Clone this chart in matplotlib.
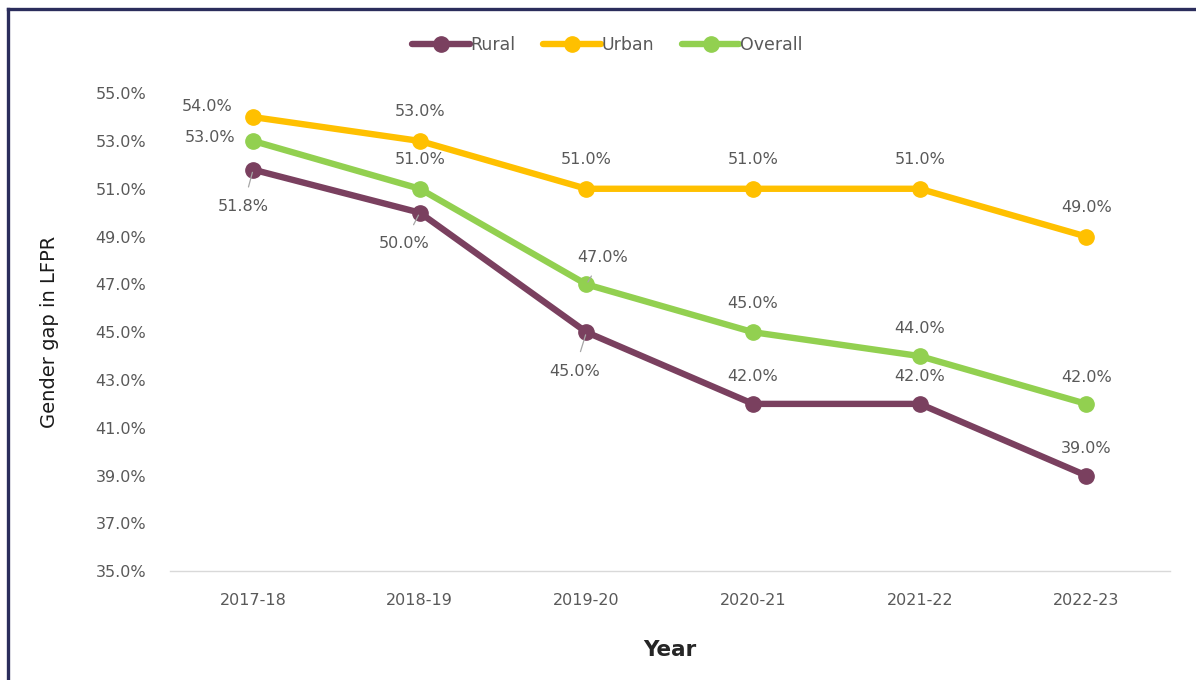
import matplotlib
matplotlib.use("Agg")
import matplotlib.pyplot as plt
from matplotlib.lines import Line2D
from matplotlib.ticker import FuncFormatter

plt.rcParams['font.family'] = ['DejaVu Sans']

years = ["2017-18", "2018-19", "2019-20", "2020-21", "2021-22", "2022-23"]
rural = [51.8, 50.0, 45.0, 42.0, 42.0, 39.0]
urban = [54.0, 53.0, 51.0, 51.0, 51.0, 49.0]
overall = [53.0, 51.0, 47.0, 45.0, 44.0, 42.0]

C_RURAL = "#7A405F"
C_URBAN = "#FFC000"
C_OVERALL = "#92D050"
TXT = "#595959"

# label offsets in pixels (dx, dy) and whether a leader line is drawn
rural_off = [(-10, -37, True), (-16, -31, True), (-12, -39, True), (0, 27, False), (0, 27, False), (0, 27, False)]
urban_off = [(-46, 11, False), (0, 29, False), (0, 29, False), (0, 29, False), (0, 29, False), (0, 29, False)]
overall_off = [(-43, 3, False), (0, 29, False), (16, 27, True), (0, 29, False), (0, 28, False), (0, 26, False)]

fig = plt.figure(figsize=(11.96, 6.8), dpi=100)
ax = fig.add_axes([0.142, 0.160, 0.836, 0.703])

x = list(range(len(years)))
series = [("Rural", rural, C_RURAL, rural_off),
          ("Urban", urban, C_URBAN, urban_off),
          ("Overall", overall, C_OVERALL, overall_off)]

for name, vals, col, offs in series:
    ax.plot(x, vals, color=col, lw=4.6, marker="o", ms=11, label=name,
            solid_capstyle="round", zorder=3)
    for xi, v, (dx, dy, lead) in zip(x, vals, offs):
        kw = {}
        if lead:
            kw["arrowprops"] = dict(arrowstyle="-", color="#A6A6A6", lw=0.9,
                                    shrinkA=7, shrinkB=2)
        ax.annotate(f"{v:.1f}%", (xi, v), xytext=(dx, dy),
                    textcoords="offset pixels", ha="center", va="center",
                    fontsize=11.5, color=TXT, zorder=4, **kw)

ax.set_xlim(-0.5, len(years) - 0.5)
ax.set_ylim(35, 55)
ax.set_yticks([35 + 2 * i for i in range(11)])
ax.yaxis.set_major_formatter(FuncFormatter(lambda v, p: f"{v:.1f}%"))
ax.set_xticks(x)
ax.set_xticklabels(years)
ax.tick_params(axis="both", length=0, labelsize=11.5, labelcolor=TXT)
ax.tick_params(axis="y", pad=17)
ax.tick_params(axis="x", pad=16)
for s in ["top", "right", "left"]:
    ax.spines[s].set_visible(False)
ax.spines["bottom"].set_color("#D9D9D9")
ax.spines["bottom"].set_linewidth(1.0)

ax.set_ylabel("Gender gap in LFPR", fontsize=14, color="#1A1A1A", labelpad=26)
ax.set_xlabel("Year", fontsize=15.5, fontweight="bold", color="#262626", labelpad=23)

leg = fig.legend(loc="center", bbox_to_anchor=(0.508, 0.934), ncol=3, frameon=False,
                 fontsize=12.5, handlelength=3.3, handletextpad=0.05, columnspacing=1.6,
                 markerscale=1.0)
for t in leg.get_texts():
    t.set_color(TXT)

# frame lines along the top and left edges
fig.add_artist(Line2D([8 / 1196, 1.0], [1 - 9 / 680, 1 - 9 / 680], transform=fig.transFigure,
                      color="#2B2D5C", lw=2.4))
fig.add_artist(Line2D([8 / 1196, 8 / 1196], [0, 1 - 9 / 680], transform=fig.transFigure,
                      color="#2B2D5C", lw=2.4))

fig.savefig("out.png", dpi=100, facecolor="white")
